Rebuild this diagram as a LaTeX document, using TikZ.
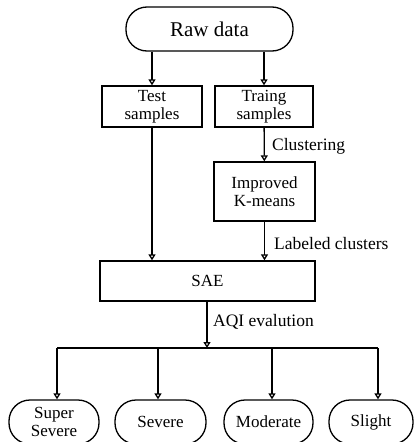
\documentclass[tikz,border=0pt]{standalone}
\usepackage{fontspec}
\setmainfont{Liberation Serif}
\usetikzlibrary{arrows.meta}
\tikzset{
  box/.style={draw, line width=1.3pt, align=center, inner sep=1pt, font=\fontsize{17}{18.5}\selectfont},
  term/.style={box, rounded corners=21pt},
  arr/.style={draw, line width=1.3pt, -{Triangle[open, length=6pt, width=7pt]}},
  lbl/.style={anchor=west, inner sep=0pt, font=\fontsize{17.5}{21}\selectfont}
}
\begin{document}
\begin{tikzpicture}[x=1pt, y=1pt]
\useasboundingbox (0,0) rectangle (414,-442);
\node[term, minimum width=167pt, minimum height=44pt, font=\fontsize{21}{24}\selectfont] (raw) at (209.5,-29) {Raw data};
\node[box, minimum width=100pt, minimum height=41pt] (test) at (152,-106.5) {Test\\samples};
\node[box, minimum width=98pt, minimum height=41pt] (train) at (264,-106.5) {Traing\\samples};
\node[box, minimum width=101pt, minimum height=59pt] (kmeans) at (264.5,-191.5) {Improved\\K-means};
\node[box, minimum width=215pt, minimum height=40pt] (sae) at (207.5,-281) {SAE};
\node[term, minimum width=90pt, minimum height=44pt] (super) at (54,-422) {Super\\Severe};
\node[term, minimum width=91pt, minimum height=44pt] (severe) at (160.5,-422) {Severe};
\node[term, minimum width=89pt, minimum height=44pt] (moderate) at (268.5,-422) {Moderate};
\node[term, minimum width=84pt, minimum height=44pt] (slight) at (371,-422) {Slight};
% connectors
\draw[arr] (raw.south -| test) -- (test.north);
\draw[arr] (raw.south -| train) -- (train.north);
\draw[arr] (train) -- (kmeans);
\draw[arr] (test) -- (test |- sae.north);
\draw[arr] (kmeans) -- (kmeans |- sae.north);
\coordinate (hub) at (207,-348);
\coordinate (b1) at (57,-348);
\coordinate (b2) at (158,-348);
\coordinate (b3) at (272,-348);
\coordinate (b4) at (378,-348);
\draw[arr] (sae.south -| hub) -- (hub);
\draw[line width=1.3pt] (b1) -- (b4);
\draw[arr] (b1) -- (b1 |- super.north);
\draw[arr] (b2) -- (b2 |- severe.north);
\draw[arr] (b3) -- (b3 |- moderate.north);
\draw[arr] (b4) -- (b4 |- slight.north);
% labels
\node[lbl] (clus) at (272,-146) {Clustering};
\node[lbl] (lab) at (274,-244) {Labeled clusters};
\node[lbl] (aqi) at (213,-322) {AQI evalution};
\end{tikzpicture}
\end{document}
